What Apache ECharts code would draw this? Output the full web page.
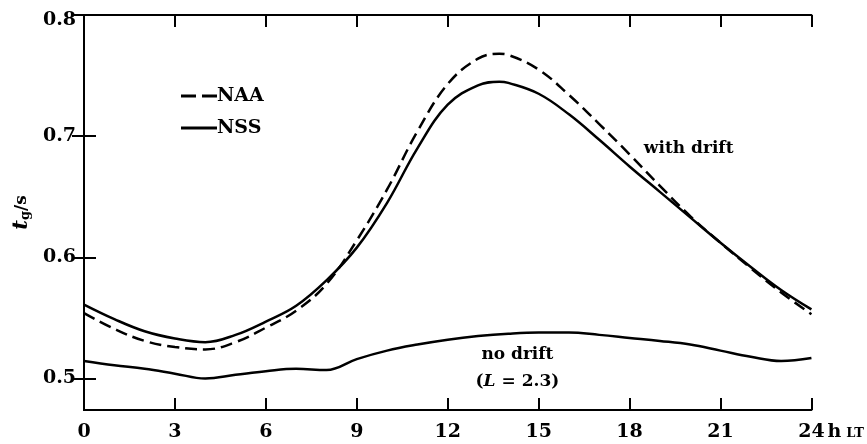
<!DOCTYPE html>
<html>
<head>
<meta charset="utf-8">
<script src="https://cdn.jsdelivr.net/npm/echarts@6/dist/echarts.min.js"></script>
<style>html,body{margin:0;padding:0;background:#fff;}#c{width:867px;height:444px;}</style>
</head>
<body>
<div id="c"></div>
<script>
const hours = [0,1,2,3,4,5,6,7,8,9,10,11,12,13,13.7,14,15,16,17,18,19,20,21,22,23,24];
const nssDrift = [0.561,0.549,0.539,0.533,0.530,0.536,0.547,0.560,0.581,0.608,0.645,0.690,0.726,0.742,0.745,0.744,0.735,0.718,0.697,0.675,0.654,0.633,0.612,0.592,0.573,0.557];
const naaDrift = [0.554,0.541,0.531,0.526,0.524,0.530,0.542,0.556,0.578,0.614,0.656,0.704,0.743,0.764,0.768,0.767,0.755,0.734,0.710,0.685,0.659,0.634,0.612,0.591,0.571,0.553];
const noDriftHours = [0,1,2,3,4,5,6,7,8,9,10,11,12,13,14,15,16,17,18,19,20,21,22,23,24];
const noDrift = [0.5145,0.511,0.508,0.504,0.500,0.503,0.506,0.508,0.507,0.516,0.523,0.528,0.532,0.535,0.537,0.538,0.538,0.536,0.5335,0.531,0.528,0.523,0.518,0.5145,0.517];
const yTicks = [0.5,0.6,0.7,0.8];
const seriesNames = ['NAA','NSS'];

const serif = 'DejaVu Serif';
const pairs = (xs, ys) => xs.map((x,i)=>[x, ys[i]]);
const axisLineStyle = {color:'#000', width:2};
const tickStyle = {color:'#000', width:2};

const chart = echarts.init(document.getElementById('c'));
chart.setOption({
  animation:false,
  backgroundColor:'#fff',
  grid:{left:84, right:55, top:15, bottom:34},
  legend:{
    data:[
      {name:seriesNames[0], icon:'path://M0,0H15V3H0Z M21,0H36V3H21Z'},
      {name:seriesNames[1], icon:'path://M0,0H36V3H0Z'}
    ],
    orient:'vertical', left:176, top:81, itemWidth:36, itemHeight:3, itemGap:12,
    itemStyle:{color:'#000'},
    textStyle:{fontFamily:serif, fontWeight:'bold', fontSize:19, color:'#000', padding:[0,0,0,-5], lineHeight:20}
  },
  xAxis:[
    {type:'value', min:0, max:24, interval:3, position:'bottom',
     axisLine:{lineStyle:axisLineStyle}, axisTick:{inside:true, length:12, lineStyle:tickStyle},
     axisLabel:{margin:13, fontFamily:serif, fontWeight:'bold', fontSize:19, color:'#000'},
     splitLine:{show:false},
     name:'{h|h}{lt|LT}', nameLocation:'end', nameGap:16, nameMoveOverlap:false,
     nameTextStyle:{verticalAlign:'top', padding:[13,0,0,0],
       rich:{h:{fontFamily:serif, fontWeight:'bold', fontSize:19, color:'#000'},
             lt:{fontFamily:serif, fontWeight:'bold', fontSize:13, color:'#000', padding:[2,0,0,5]}}}},
    {type:'value', min:0, max:24, interval:3, position:'top',
     axisLine:{lineStyle:axisLineStyle}, axisTick:{inside:true, length:12, lineStyle:tickStyle},
     axisLabel:{show:false}, splitLine:{show:false}}
  ],
  yAxis:[
    {type:'value', min:0.474, max:0.8, position:'left',
     axisLine:{show:true, lineStyle:axisLineStyle},
     axisTick:{show:true, inside:true, length:12, lineStyle:tickStyle, customValues:yTicks},
     axisLabel:{customValues:yTicks, margin:8, fontFamily:serif, fontWeight:'bold', fontSize:19, color:'#000',
       formatter:v=> v >= 0.79 ? '{top|' + v.toFixed(1) + '}' : v.toFixed(1),
       rich:{top:{fontFamily:serif, fontWeight:'bold', fontSize:19, color:'#000', padding:[10,0,0,0]}}},
     splitLine:{show:false},
     name:'{t|t}{g|g}{s|/s}', nameLocation:'middle', nameGap:52, nameRotate:90,
     nameTextStyle:{rich:{
       t:{fontFamily:serif, fontWeight:'bold', fontStyle:'italic', fontSize:21, color:'#000'},
       g:{fontFamily:serif, fontWeight:'bold', fontSize:13, color:'#000', verticalAlign:'bottom', padding:[8,0,0,0]},
       s:{fontFamily:serif, fontWeight:'bold', fontSize:17, color:'#000'}}}},
    {type:'value', min:0.474, max:0.8, position:'right',
     axisLine:{show:true, lineStyle:axisLineStyle},
     axisTick:{show:true, inside:true, length:12, lineStyle:tickStyle, customValues:yTicks},
     axisLabel:{show:false}, splitLine:{show:false}}
  ],
  series:[
    {name:'NAA', type:'line', smooth:0.4, symbol:'none', data:pairs(hours, naaDrift),
     lineStyle:{color:'#000', width:2.5, type:[12,6]}, itemStyle:{color:'#000'}},
    {name:'NSS', type:'line', smooth:0.4, symbol:'none', data:pairs(hours, nssDrift),
     lineStyle:{color:'#000', width:2.5}, itemStyle:{color:'#000'},
     markPoint:{symbol:'circle', symbolSize:0, silent:true,
       label:{show:true, position:'inside', fontFamily:serif, fontWeight:'bold', fontSize:17, color:'#000', formatter:'with drift'},
       data:[{coord:[19.95, 0.690]}]}},
    {name:'NSS no drift', type:'line', smooth:0.4, symbol:'none', data:pairs(noDriftHours, noDrift),
     lineStyle:{color:'#000', width:2.5}, itemStyle:{color:'#000'},
     markPoint:{symbol:'circle', symbolSize:0, silent:true,
       label:{show:true, position:'inside', formatter:'{n|no drift}\n{p|(}{l|L}{p| = 2.3)}',
         rich:{n:{fontFamily:serif, fontWeight:'bold', fontSize:17, color:'#000', lineHeight:27, align:'center'},
               p:{fontFamily:serif, fontWeight:'bold', fontSize:17, color:'#000', lineHeight:27},
               l:{fontFamily:serif, fontWeight:'bold', fontStyle:'italic', fontSize:17, color:'#000', lineHeight:27}}},
       data:[{coord:[14.3, 0.509]}]}}
  ]
});
</script>
</body>
</html>
